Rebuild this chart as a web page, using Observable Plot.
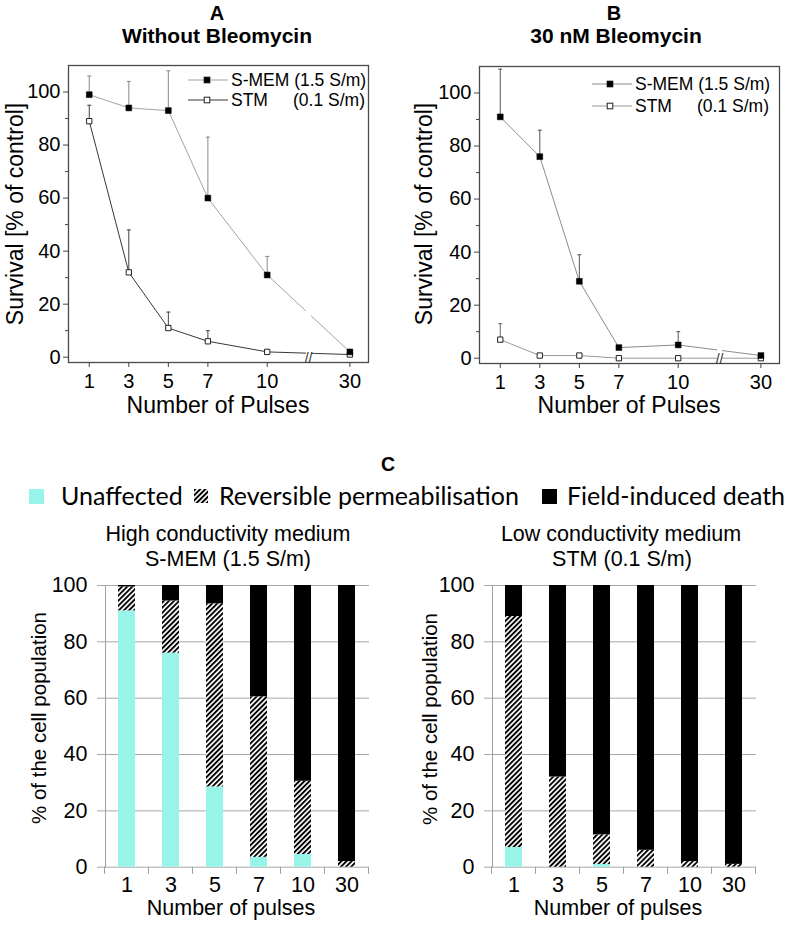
<!DOCTYPE html>
<html><head><meta charset="utf-8">
<script src="https://cdn.jsdelivr.net/npm/d3@7"></script>
<script src="https://cdn.jsdelivr.net/npm/@observablehq/plot@0.6"></script>
<style>
body{margin:0;background:#fff;}
#root{position:relative;width:787px;height:944px;overflow:hidden;font-family:"Liberation Sans",Arial,sans-serif;color:#000;}
.t{position:absolute;white-space:nowrap;line-height:1;transform:translate(-50%,-50%);}
.r{transform:translate(-50%,-50%) rotate(-90deg);}
.p{position:absolute;}
</style></head>
<body>
<svg width="0" height="0" style="position:absolute">
  <defs>
    <pattern id="hatch" patternUnits="userSpaceOnUse" width="3.6" height="3.6" patternTransform="rotate(45)">
      <rect x="0" y="0" width="3.6" height="3.6" fill="#fff"></rect>
      <rect x="0" y="0" width="1.9" height="3.6" fill="#000"></rect>
    </pattern>
  </defs>
</svg>
<div id="root"></div>
<script>
// ---------- data ----------
const pulses = [1, 3, 5, 7, 10, 30];
const yTicksSurvival = [0, 20, 40, 60, 80, 100];
const yMinorSurvival = [10, 30, 50, 70, 90];

// Panel A: without bleomycin
const noBleo_SMEM = [99, 94, 93, 60, 31, 2];
const noBleo_SMEM_err = [7, 10, 15, 23, 7, 0];
const noBleo_STM = [89, 32, 11, 6, 2, 1];
const noBleo_STM_err = [6, 16, 6, 4, 0, 0];

// Panel B: 30 nM bleomycin
const bleo_SMEM = [91, 76, 29, 4, 5, 1];
const bleo_SMEM_err = [18, 10, 10, 0, 5, 0];
const bleo_STM = [7, 1, 1, 0, 0, 0];
const bleo_STM_err = [6, 0, 0, 0, 0, 0];

// Panel C: population fractions
const categories = ["1", "3", "5", "7", "10", "30"];
const outcomeTypes = ["Unaffected", "Reversible permeabilisation", "Field-induced death"];
const unaffected_SMEM = [91, 76, 28.5, 3.5, 4.5, 0];
const reversible_SMEM = [8.5, 18.5, 65, 57, 26, 2];
const death_SMEM = [0.5, 5.5, 6.5, 39.5, 69.5, 98];
const unaffected_STM = [7, 0, 1, 0, 0, 0];
const reversible_STM = [82, 32, 10.5, 6, 2, 1];
const death_STM = [11, 68, 88.5, 94, 98, 99];
const yTicksPct = [0, 20, 40, 60, 80, 100];

const root = document.getElementById("root");

function text(str, x, y, opts = {}) {
  const d = document.createElement("div");
  d.className = "t" + (opts.rotate ? " r" : "");
  d.textContent = str;
  d.style.left = x + "px";
  d.style.top = y + "px";
  d.style.fontSize = (opts.size || 20) + "px";
  if (opts.weight) d.style.fontWeight = opts.weight;
  if (opts.family) d.style.fontFamily = opts.family;
  root.appendChild(d);
  return d;
}
function place(el, left, top) {
  el.classList.add("p");
  el.style.left = left + "px";
  el.style.top = top + "px";
  root.appendChild(el);
}

const capSymbol = {
  draw(ctx, size) {
    const w = Math.sqrt(size / Math.PI);
    ctx.moveTo(-w, 0);
    ctx.lineTo(w, 0);
  }
};

function linePanel(cfg) {
  const smem = pulses.map((p, i) => ({p, v: cfg.smem[i], e: cfg.smemErr[i]}));
  const stm = pulses.map((p, i) => ({p, v: cfg.stm[i], e: cfg.stmErr[i]}));
  const breakAt = 20;
  const svg = Plot.plot({
    width: 390, height: 400,
    marginTop: 65, marginBottom: 38, marginLeft: 68, marginRight: 22,
    x: {type: "linear", domain: [-0.05, 10, 34.5], range: [68, 266.7, 368], label: null},
    y: {domain: [-2, 110], label: null},
    style: {fontFamily: "Liberation Sans, Arial, sans-serif", fontSize: "20px", color: "#000", background: "transparent", overflow: "visible"},
    marks: [
      Plot.ruleX(smem.filter(d => d.e > 0), {x: "p", y1: "v", y2: d => d.v + d.e, stroke: cfg.smemErrColor, strokeWidth: 1}),
      Plot.dot(smem.filter(d => d.e > 0), {x: "p", y: d => d.v + d.e, symbol: capSymbol, r: 2, stroke: cfg.smemErrColor, strokeWidth: 1}),
      Plot.ruleX(stm.filter(d => d.e > 0), {x: "p", y1: "v", y2: d => d.v + d.e, stroke: cfg.stmErrColor, strokeWidth: 1}),
      Plot.dot(stm.filter(d => d.e > 0), {x: "p", y: d => d.v + d.e, symbol: capSymbol, r: 2, stroke: cfg.stmErrColor, strokeWidth: 1}),
      Plot.line(stm, {x: "p", y: "v", stroke: cfg.stmColor, strokeWidth: 1}),
      Plot.line(smem, {x: "p", y: "v", stroke: cfg.smemColor, strokeWidth: 1}),
      Plot.ruleX([breakAt], {stroke: "#fff", strokeWidth: 5}),
      Plot.dot(stm, {x: "p", y: "v", symbol: "square", r: 3, fill: "#fff", stroke: "#222", strokeWidth: 1}),
      Plot.dot(smem, {x: "p", y: "v", symbol: "square", r: 3.3, fill: "#000", stroke: "#000", strokeWidth: 0.5}),
      Plot.frame({stroke: "#4a4a4a", strokeWidth: 1.3}),
      Plot.axisX({ticks: pulses, tickFormat: d => String(d), tickSize: 5, tickPadding: 6, stroke: "#444", label: null}),
      Plot.axisY({ticks: yTicksSurvival, tickSize: 5, tickPadding: 3, stroke: "#444", label: null}),
      Plot.axisY({ticks: yMinorSurvival, tickSize: 3, tickFormat: () => "", stroke: "#444", label: null}),
      Plot.text(["//"], {x: breakAt, frameAnchor: "bottom", fontSize: 14, fill: "#333"})
    ]
  });
  // legend (inside top-right)
  const g = d3.select(svg).append("g")
    .attr("font-size", "17.5px")
    .attr("font-family", "Liberation Sans, Arial, sans-serif")
    .attr("text-anchor", "start");
  const L = cfg.legend;
  const rows = [
    {y: L.y1, stroke: cfg.smemColor, fill: "#000", sq: "#000", label: "S-MEM (1.5 S/m)", right: null},
    {y: L.y2, stroke: cfg.stmColor, fill: "#fff", sq: "#222", label: "STM", right: "(0.1 S/m)"}
  ];
  rows.forEach(r => {
    g.append("line").attr("x1", L.x0).attr("x2", L.x1).attr("y1", r.y).attr("y2", r.y).attr("stroke", r.stroke).attr("stroke-width", 1);
    g.append("rect").attr("x", L.xm - 2.8).attr("y", r.y - 2.8).attr("width", 5.6).attr("height", 5.6)
      .attr("fill", r.fill).attr("stroke", r.sq).attr("stroke-width", 1);
    g.append("text").attr("x", L.xt).attr("y", r.y).attr("dy", "0.35em").attr("text-anchor", "start").text(r.label);
    if (r.right) g.append("text").attr("x", L.xr).attr("y", r.y).attr("dy", "0.35em").attr("text-anchor", "end").text(r.right);
  });
  return svg;
}

const svgA = linePanel({
  smem: noBleo_SMEM, smemErr: noBleo_SMEM_err, stm: noBleo_STM, stmErr: noBleo_STM_err,
  smemColor: "#a3a3a3", smemErrColor: "#8a8a8a", stmColor: "#383838", stmErrColor: "#444",
  legend: {x0: 188, x1: 228, xm: 207, xt: 231, xr: 365, y1: 80, y2: 100}
});
place(svgA, 0, 0);
const svgB = linePanel({
  smem: bleo_SMEM, smemErr: bleo_SMEM_err, stm: bleo_STM, stmErr: bleo_STM_err,
  smemColor: "#8c8c8c", smemErrColor: "#555", stmColor: "#9a9a9a", stmErrColor: "#666",
  legend: {x0: 181, x1: 221, xm: 199, xt: 224, xr: 358, y1: 83, y2: 105}
});
place(svgB, 411, 1);

text("A", 217, 12.5, {size: 20, weight: "bold"});
text("Without Bleomycin", 217, 35, {size: 21, weight: "bold"});
text("B", 614, 12.5, {size: 20, weight: "bold"});
text("30 nM Bleomycin", 616, 35, {size: 21, weight: "bold"});
text("Survival [% of control]", 15, 214, {size: 23, rotate: true});
text("Survival [% of control]", 424, 214, {size: 23, rotate: true});
text("Number of Pulses", 218, 405, {size: 23});
text("Number of Pulses", 629, 405, {size: 23});

// ---------- panel C ----------
const typeColors = ["#96f5e8", "url(#hatch)", "#000"];
function barPanel(unaff, rev, death) {
  const rows = [];
  categories.forEach((c, i) => {
    rows.push({c, type: outcomeTypes[0], v: unaff[i]});
    rows.push({c, type: outcomeTypes[1], v: rev[i]});
    rows.push({c, type: outcomeTypes[2], v: death[i]});
  });
  const svg = Plot.plot({
    width: 390, height: 350,
    marginTop: 15, marginBottom: 53.3, marginLeft: 105, marginRight: 21,
    x: {type: "band", domain: categories, paddingInner: 0.61, paddingOuter: 0.305, label: null},
    y: {domain: [0, 100], label: null},
    color: {domain: outcomeTypes, range: typeColors},
    style: {fontFamily: "Liberation Sans, Arial, sans-serif", fontSize: "21.5px", color: "#000", background: "transparent", overflow: "visible"},
    marks: [
      Plot.ruleY(yTicksPct, {stroke: "#a8a8a8", strokeWidth: 1}),
      Plot.barY(rows, {x: "c", y: "v", fill: "type"}),
      Plot.axisY({ticks: yTicksPct, tickSize: 8, tickPadding: 10, stroke: "#a8a8a8", label: null}),
      Plot.axisX({tickSize: 0, tickPadding: 10, label: null}),
      Plot.frame({anchor: "left", stroke: "#a0a0a0"})
    ]
  });
  // category boundary ticks on the x axis
  const xs = svg.scale("x"), ys = svg.scale("y");
  const step = xs.step, bw = xs.bandwidth;
  const y0 = ys.apply(0);
  const edges = categories.map(c => xs.apply(c) - (step - bw) / 2);
  edges.push(edges[edges.length - 1] + step);
  const g = d3.select(svg).append("g").attr("stroke", "#a0a0a0");
  edges.forEach(x => g.append("line").attr("x1", x).attr("x2", x).attr("y1", y0).attr("y2", y0 + 7));
  return svg;
}
place(barPanel(unaffected_SMEM, reversible_SMEM, death_SMEM), 0, 570);
place(barPanel(unaffected_STM, reversible_STM, death_STM), 387, 570);

text("C", 388, 465, {size: 19.5, weight: "bold"});
text("High conductivity medium", 228, 535, {size: 21.5});
text("S-MEM (1.5 S/m)", 228, 560, {size: 21.5});
text("Low conductivity medium", 621, 535, {size: 21.5});
text("STM (0.1 S/m)", 622, 560, {size: 21.5});
text("% of the cell population", 39, 718, {size: 20.5, rotate: true});
text("% of the cell population", 430, 719, {size: 20.5, rotate: true});
text("Number of pulses", 231, 909, {size: 21.5});
text("Number of pulses", 618, 909, {size: 21.5});

// legend for panel C
const legendItems = [
  {label: outcomeTypes[0], fill: typeColors[0], sx: 29, size: 15, tx: 61},
  {label: outcomeTypes[1], fill: typeColors[1], sx: 194, size: 14, tx: 219},
  {label: outcomeTypes[2], fill: typeColors[2], sx: 542, size: 15, tx: 567}
];
legendItems.forEach(it => {
  const s = d3.create("svg").attr("width", it.size).attr("height", it.size);
  s.append("rect").attr("width", it.size).attr("height", it.size).attr("fill", it.fill);
  const n = s.node();
  place(n, it.sx, 496 - it.size / 2);
  const d = document.createElement("div");
  d.textContent = it.label;
  d.style.cssText = "position:absolute;white-space:nowrap;line-height:1;font-family:Lato,'Open Sans',sans-serif;font-size:25px;transform:translateY(-50%);";
  d.style.left = it.tx + "px";
  d.style.top = "495px";
  root.appendChild(d);
});
</script>
</body></html>
